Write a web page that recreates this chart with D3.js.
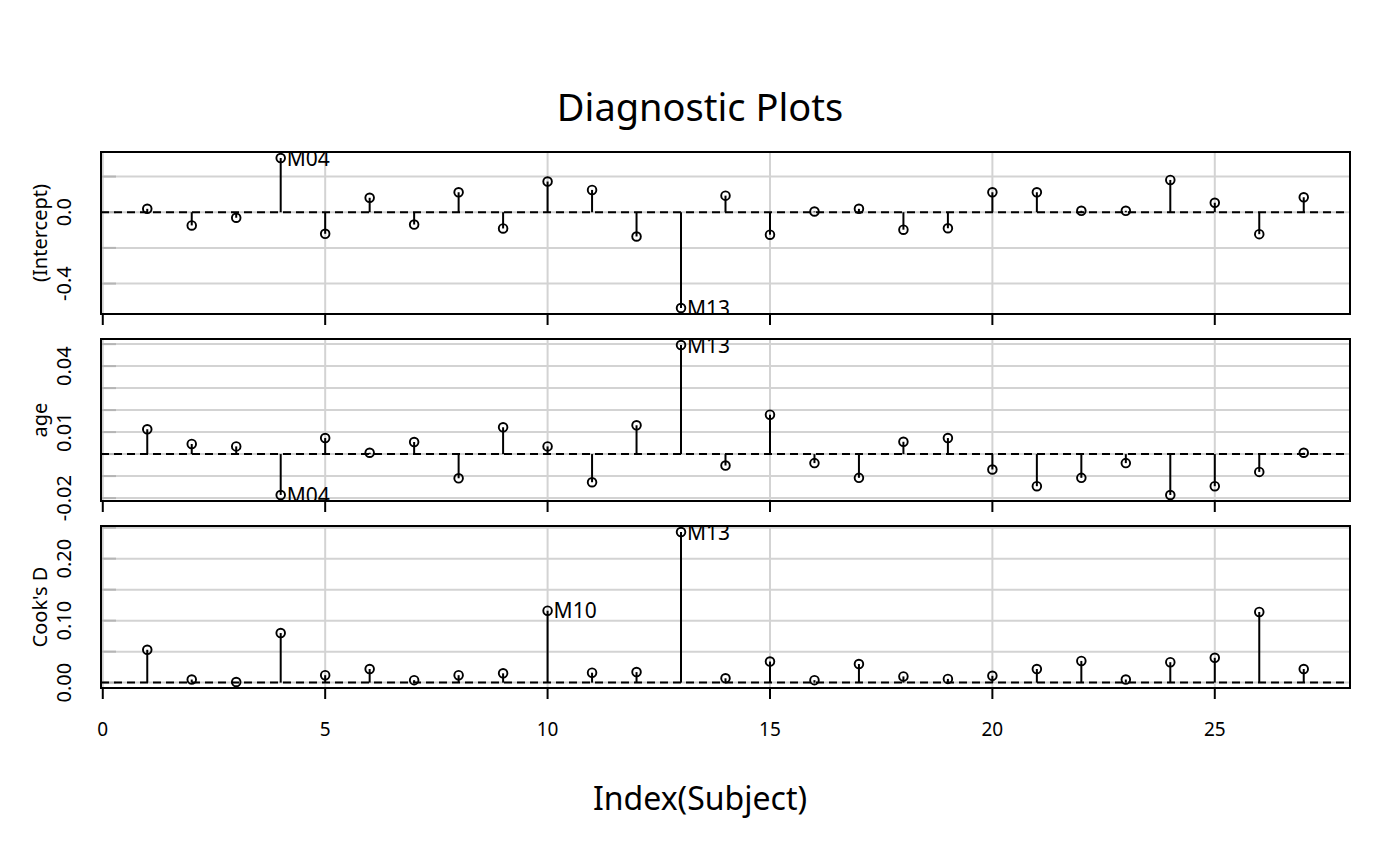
<!DOCTYPE html>
<html>
<head>
<meta charset="utf-8">
<script src="https://cdn.jsdelivr.net/npm/d3@7"></script>
<style>
  html, body { margin: 0; padding: 0; background: #fff; }
  svg { display: block; font-family: "Noto Sans", "Open Sans", sans-serif; }
</style>
</head>
<body>
<svg id="chart" width="1400" height="866"></svg>
<script>
// ---- data ----
const subjects = ["M01","M02","M03","M04","M05","M06","M07","M08","M09","M10","M11","M12","M13","M14","M15","M16",
                  "F01","F02","F03","F04","F05","F06","F07","F08","F09","F10","F11"];
const interceptVals = [0.019,-0.074,-0.031,0.304,-0.121,0.081,-0.069,0.112,-0.091,0.172,0.125,-0.136,-0.537,
                       0.093,-0.126,0.004,0.019,-0.098,-0.090,0.112,0.112,0.008,0.008,0.181,0.053,-0.123,0.084];
const ageVals = [0.0113,0.0046,0.0035,-0.0186,0.0073,0.0006,0.0055,-0.0110,0.0122,0.0035,-0.0128,0.0131,0.0496,
                 -0.0052,0.0179,-0.0041,-0.0108,0.0056,0.0073,-0.0070,-0.0146,-0.0108,-0.0041,-0.0186,-0.0146,-0.0081,0.0006];
const cooksVals = [0.053,0.005,0.001,0.080,0.012,0.022,0.004,0.012,0.015,0.116,0.016,0.017,0.243,
                   0.007,0.034,0.004,0.030,0.010,0.006,0.011,0.022,0.035,0.005,0.033,0.040,0.114,0.022];

const panelNames = ["(Intercept)", "age", "Cook's D"];
const interceptTicks = [-0.4, -0.2, 0.0, 0.2];
const interceptTickLabels = ["-0.4", "0.0"];
const ageTicks = [-0.02, -0.01, 0.00, 0.01, 0.02, 0.03, 0.04, 0.05];
const ageTickLabels = ["-0.02", "0.01", "0.04"];
const cooksTicks = [0.00, 0.05, 0.10, 0.15, 0.20, 0.25];
const cooksTickLabels = ["0.00", "0.10", "0.20"];
const interceptLabeled = ["M04", "M13"];
const ageLabeled = ["M04", "M13"];
const cooksLabeled = ["M10", "M13"];
const xTicks = [0, 5, 10, 15, 20, 25];
const titleText = "Diagnostic Plots";
const xLabelText = "Index(Subject)";

// ---- layout ----
const svg = d3.select("#chart");
const left = 101, right = 1350;
const panelTops = [152, 339, 526];
const panelH = 162;

const x = d3.scaleLinear().domain([-0.04, 28.04]).range([left, right]);

const panels = [
  {vals: interceptVals, ticks: interceptTicks, labels: interceptTickLabels, labeled: interceptLabeled},
  {vals: ageVals, ticks: ageTicks, labels: ageTickLabels, labeled: ageLabeled},
  {vals: cooksVals, ticks: cooksTicks, labels: cooksTickLabels, labeled: cooksLabeled}
];

panels.forEach((p, pi) => {
  const top = panelTops[pi], bottom = top + panelH;
  const ext = d3.extent(p.vals);
  const pad = (ext[1] - ext[0]) * 0.04;
  const y = d3.scaleLinear().domain([ext[0] - pad, ext[1] + pad]).range([bottom, top]);
  const g = svg.append("g");

  const clipId = "clip" + pi;
  svg.append("clipPath").attr("id", clipId).append("rect")
    .attr("x", left).attr("y", top).attr("width", right - left).attr("height", panelH);

  const inner = g.append("g").attr("clip-path", `url(#${clipId})`);

  // vertical grid
  inner.selectAll(".vg").data(xTicks).enter().append("line")
    .attr("x1", d => x(d)).attr("x2", d => x(d)).attr("y1", top).attr("y2", bottom)
    .attr("stroke", "#d3d3d3").attr("stroke-width", 2);
  // horizontal grid
  inner.selectAll(".hg").data(p.ticks).enter().append("line")
    .attr("x1", left).attr("x2", right).attr("y1", d => y(d)).attr("y2", d => y(d))
    .attr("stroke", "#d3d3d3").attr("stroke-width", 2);
  // inner small ticks
  inner.selectAll(".it").data(p.ticks).enter().append("line")
    .attr("x1", left).attr("x2", left + 15).attr("y1", d => y(d)).attr("y2", d => y(d))
    .attr("stroke", "#b5b5b5").attr("stroke-width", 2);

  // zero reference line
  inner.append("line")
    .attr("x1", left).attr("x2", right).attr("y1", y(0)).attr("y2", y(0))
    .attr("stroke", "#000").attr("stroke-width", 2).attr("stroke-dasharray", "8,5");

  // stems
  inner.selectAll(".stem").data(p.vals).enter().append("line")
    .attr("x1", (d, i) => x(i + 1)).attr("x2", (d, i) => x(i + 1))
    .attr("y1", y(0)).attr("y2", d => y(d))
    .attr("stroke", "#000").attr("stroke-width", 2);
  // points
  inner.selectAll(".pt").data(p.vals).enter().append("circle")
    .attr("cx", (d, i) => x(i + 1)).attr("cy", d => y(d)).attr("r", 4.3)
    .attr("fill", "none").attr("stroke", "#000").attr("stroke-width", 1.9);
  // labels
  inner.selectAll(".lab").data(p.vals.map((v, i) => ({v, i, s: subjects[i]})).filter(d => p.labeled.includes(d.s)))
    .enter().append("text")
    .attr("x", d => x(d.i + 1) + 6).attr("y", d => y(d.v) + 7.5)
    .attr("font-size", 21).attr("fill", "#000")
    .text(d => d.s);

  // border
  g.append("rect").attr("x", left).attr("y", top).attr("width", right - left).attr("height", panelH)
    .attr("fill", "none").attr("stroke", "#000").attr("stroke-width", 2);

  // bottom x ticks
  g.selectAll(".xt").data(xTicks).enter().append("line")
    .attr("x1", d => x(d)).attr("x2", d => x(d)).attr("y1", bottom).attr("y2", bottom + 11)
    .attr("stroke", "#000").attr("stroke-width", 2);

  // y tick labels
  g.selectAll(".yl").data(p.labels).enter().append("text")
    .attr("transform", d => `translate(71,${y(+d)}) rotate(-90)`)
    .attr("text-anchor", "middle").attr("font-size", 20).attr("fill", "#000")
    .text(d => d);

  // panel name
  g.append("text")
    .attr("transform", `translate(47,${top + panelH / 2}) rotate(-90)`)
    .attr("text-anchor", "middle").attr("font-size", 20).attr("fill", "#000")
    .text(panelNames[pi]);

  if (pi === 2) {
    g.selectAll(".xl").data(xTicks).enter().append("text")
      .attr("x", d => x(d)).attr("y", 736)
      .attr("text-anchor", "middle").attr("font-size", 19).attr("fill", "#000")
      .text(d => d);
  }
});

svg.append("text").attr("x", 700).attr("y", 121).attr("text-anchor", "middle")
  .attr("font-size", 38).attr("fill", "#000").text(titleText);
svg.append("text").attr("x", 700).attr("y", 810).attr("text-anchor", "middle")
  .attr("font-size", 32).attr("fill", "#000").text(xLabelText);
</script>
</body>
</html>
